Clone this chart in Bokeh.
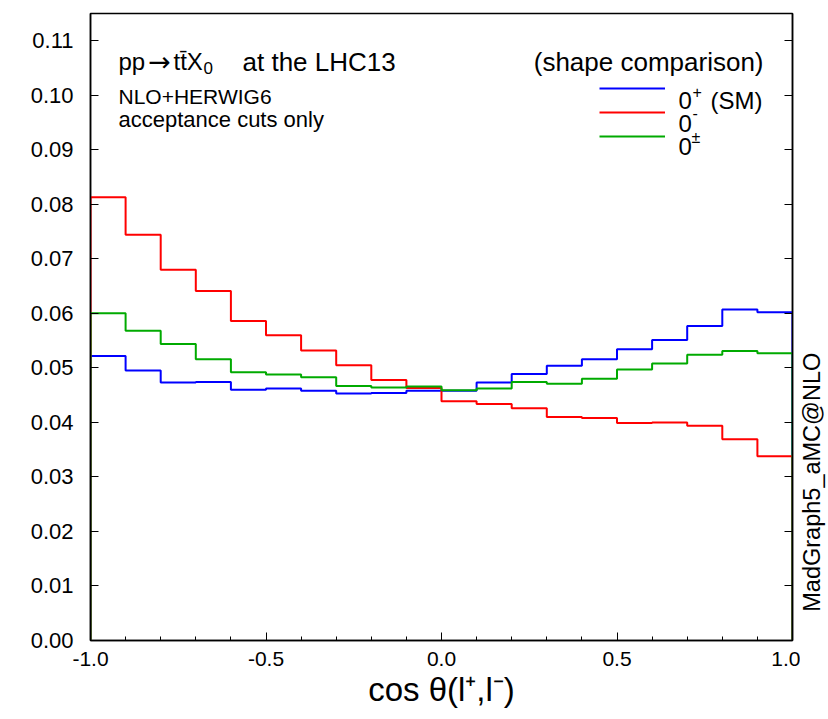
import numpy as np
from bokeh.plotting import figure
from bokeh.layouts import row
from bokeh.models import (Range1d, FixedTicker, PrintfTickFormatter, LinearAxis,
                          Label, Legend, LegendItem)
from bokeh.embed import file_html
from bokeh.resources import INLINE

# ---- data ----
bin_edges = [round(-1.0 + 0.1 * i, 1) for i in range(21)]
sm_0plus = [0.0522, 0.0495, 0.0473, 0.0474, 0.0460, 0.0462, 0.0458, 0.0453, 0.0454, 0.0458,
            0.0458, 0.0473, 0.0489, 0.0504, 0.0516, 0.0534, 0.0551, 0.0577, 0.0607, 0.0602]
odd_0minus = [0.0813, 0.0744, 0.0680, 0.0641, 0.0586, 0.0560, 0.0532, 0.0505, 0.0478, 0.0463,
              0.0439, 0.0434, 0.0426, 0.0410, 0.0408, 0.0399, 0.0400, 0.0394, 0.0369, 0.0338]
mix_0pm = [0.0600, 0.0568, 0.0544, 0.0516, 0.0492, 0.0488, 0.0483, 0.0467, 0.0464, 0.0466,
           0.0459, 0.0462, 0.0474, 0.0471, 0.0480, 0.0497, 0.0508, 0.0524, 0.0531, 0.0527]
y_ticks = [0.00, 0.01, 0.02, 0.03, 0.04, 0.05, 0.06, 0.07, 0.08, 0.09, 0.10, 0.11]
x_major_ticks = [-1.0, -0.5, 0.0, 0.5, 1.0]
x_minor_ticks = [round(-1.0 + 0.1 * i, 1) for i in range(21)]

FONT = "Liberation Sans"
W, H = 828, 719
SIDE_W = 28
PW = W - SIDE_W
FL, FR, FT, FB = 90, 792, 13, 640  # frame pixel box
XMIN, XMAX, YMIN, YMAX = -1.0, 1.0, 0.0, 0.115


def dx(px):
    return XMIN + (XMAX - XMIN) * (px - FL) / (FR - FL)


def dy(py):
    return YMIN + (YMAX - YMIN) * (FB - py) / (FB - FT)


def step_path(edges, vals):
    xs, ys = [edges[0]], [0.0]
    for i, v in enumerate(vals):
        xs += [edges[i], edges[i + 1]]
        ys += [v, v]
    xs.append(edges[-1])
    ys.append(0.0)
    return xs, ys


p = figure(width=PW, height=H, output_backend="svg", toolbar_location=None,
           x_range=Range1d(XMIN, XMAX), y_range=Range1d(YMIN, YMAX),
           min_border_left=FL, min_border_right=PW - FR, min_border_top=FT,
           min_border_bottom=H - FB)
p.background_fill_color = "white"
p.border_fill_color = "white"
p.outline_line_color = "black"
p.outline_line_width = 1.5
p.grid.visible = False

series = [(sm_0plus, "#0000ff"), (odd_0minus, "#ff0000"), (mix_0pm, "#00aa00")]
renderers = []
for vals, col in series:
    xs, ys = step_path(bin_edges, vals)
    r = p.line(xs, ys, line_color=col, line_width=2)
    renderers.append(r)

# axes
xa = p.xaxis[0]
xa.ticker = FixedTicker(ticks=x_major_ticks, minor_ticks=x_minor_ticks)
xa.formatter = PrintfTickFormatter(format="%.1f")
xa.major_tick_in = 8
xa.major_tick_out = 0
xa.minor_tick_in = 4
xa.minor_tick_out = 0
xa.axis_line_width = 1.5
xa.major_label_text_font = FONT
xa.major_label_text_font_size = "21px"
xa.major_label_text_color = "black"
xa.major_label_standoff = 11
xa.axis_label = "cos \u03b8(l\u207a,l\u207b)"
xa.axis_label_text_font = FONT
xa.axis_label_text_font_size = "33px"
xa.axis_label_text_font_style = "normal"
xa.axis_label_text_color = "black"
xa.axis_label_standoff = 2

ya = p.yaxis[0]
ya.ticker = FixedTicker(ticks=y_ticks, minor_ticks=[])
ya.formatter = PrintfTickFormatter(format="%.2f")
ya.major_tick_in = 8
ya.major_tick_out = 0
ya.minor_tick_in = 0
ya.minor_tick_out = 0
ya.axis_line_width = 1.5
ya.major_label_text_font = FONT
ya.major_label_text_font_size = "22px"
ya.major_label_text_color = "black"
ya.major_label_standoff = 17

ra = LinearAxis(ticker=FixedTicker(ticks=y_ticks, minor_ticks=[]))
ra.major_tick_in = 8
ra.major_tick_out = 0
ra.minor_tick_in = 0
ra.minor_tick_out = 0
ra.axis_line_width = 1.5
ra.major_label_standoff = 0
ra.major_label_text_font_size = "0px"
p.add_layout(ra, "right")

# legend (line swatches only; texts as labels)
legend = Legend(items=[LegendItem(label=" ", renderers=[r]) for r in renderers],
                location=(599 - FL, FB - 146), orientation="vertical",
                glyph_width=66, glyph_height=20, label_height=20, label_width=0,
                label_text_font_size="1px", label_standoff=0, spacing=4,
                padding=0, margin=0, border_line_color=None,
                background_fill_alpha=0)
p.add_layout(legend)


def lab(px, py, text, size, align="left", baseline="alphabetic", font=FONT):
    p.add_layout(Label(x=dx(px), y=dy(py), text=text, text_font=font,
                       text_font_size=size, text_align=align,
                       text_baseline=baseline, text_color="black"))


# top-left texts
lab(118, 61, "pp", "24px")
lab(159, 61, "\u2192", "27px", align="center", font="DejaVu Sans")
lab(173, 61, "tt\u0304X", "24px")
lab(203, 67, "0", "17px")
lab(242, 61, "at the LHC13", "26px")
lab(118, 96, "NLO+HERWIG6", "21px")
lab(118, 119, "acceptance cuts only", "22px")

# top-right texts
lab(763, 61, "(shape comparison)", "26px", align="right")
lab(678, 100, "0", "24px")
lab(692, 91, "+", "16px")
lab(710, 100, "(SM)", "24px")
lab(678, 123, "0", "24px")
lab(692, 112, "-", "16px")
lab(678, 146, "0", "24px")
lab(691, 137, "\u00b1", "16px")

# side panel with the rotated generator text
side = figure(width=SIDE_W, height=H, output_backend="svg", toolbar_location=None,
              x_range=Range1d(0, SIDE_W), y_range=Range1d(0, H),
              x_axis_type=None, y_axis_type=None, min_border=0)
side.grid.visible = False
side.outline_line_color = None
side.background_fill_color = "white"
side.border_fill_color = "white"
side.add_layout(Label(x=811 - PW, y=H - 686, text="MadGraph5_aMC@NLO",
                      text_font=FONT, text_font_size="23.5px", text_align="left",
                      text_baseline="middle", angle=90, angle_units="deg",
                      text_color="black"))

layout = row(p, side, spacing=0)
open("out.html", "w").write(file_html(layout, INLINE))
